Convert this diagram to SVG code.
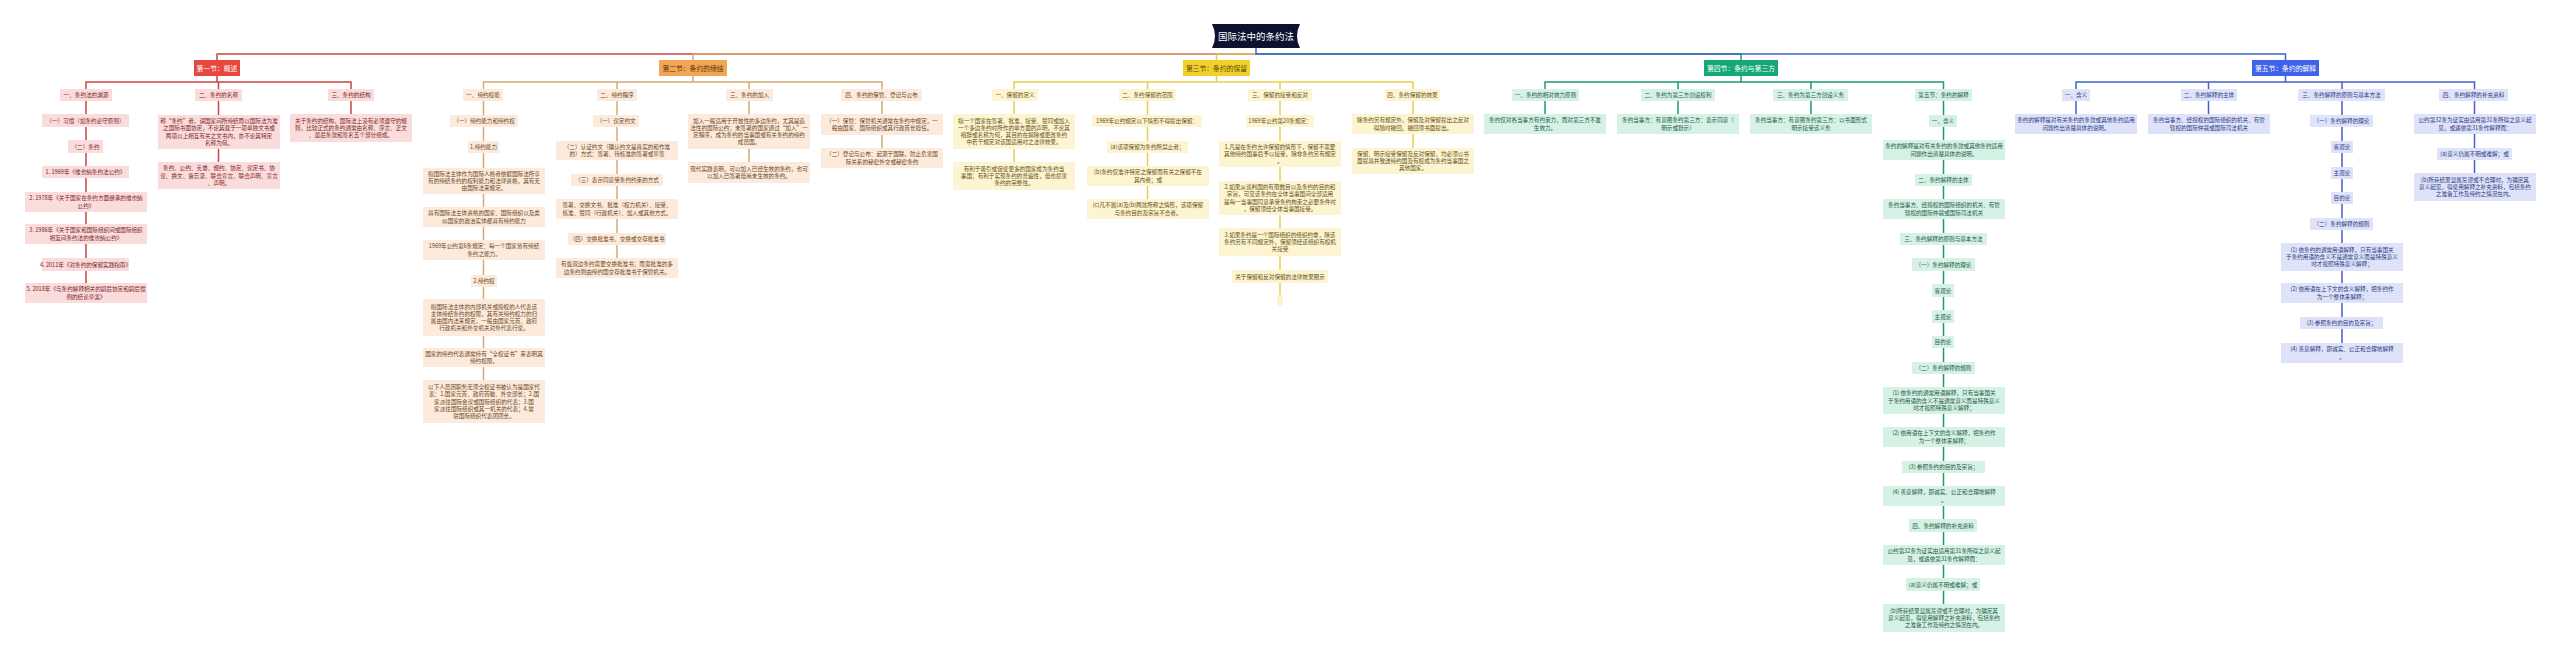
<svg xmlns="http://www.w3.org/2000/svg" width="2560" height="657" viewBox="0 0 2560 657">
<style>
text{font-family:"Noto Sans CJK SC","Noto Sans",sans-serif;font-size:5.6px;text-anchor:middle}
.c path{fill:none;stroke-width:1.5}
.l1{stroke:#c94642}.l2{stroke:#d8aa72}.l3{stroke:#e7cf4a}.l4{stroke:#1c9c6d}.l5{stroke:#4462c9}
.s1 rect{fill:#fadcdc}.s1 text{fill:#7a2424}
.s2 rect{fill:#fcebdc}.s2 text{fill:#6b4420}
.s3 rect{fill:#fdf4d2}.s3 text{fill:#5f5010}
.s4 rect{fill:#d6f1e5}.s4 text{fill:#1d5a44}
.s5 rect{fill:#dfe3fa}.s5 text{fill:#2a3a80}
.h text{font-size:6.8px}
.h1 rect{fill:#e8473d}.h1 text{fill:#fff}
.h2 rect{fill:#f2a553}.h2 text{fill:#5a3210}
.h3 rect{fill:#f1d02c}.h3 text{fill:#5a4a00}
.h4 rect{fill:#14a877}.h4 text{fill:#fff}
.h5 rect{fill:#3f62e8}.h5 text{fill:#fff}
</style>
<rect width="2560" height="657" fill="#fff"/>
<g id="connectors" class="c">
<path class="l1" d="M1256 54 H217 V60"/>
<path class="l3" d="M1256 54 H1216.5 V60"/>
<path class="l2" d="M1256 54 H693 V60"/>
<path class="l4" d="M1256 54 H1741 V60"/>
<path class="l5" d="M1256 48 V54 H2285.5 V60"/>
<path class="l1" d="M217 76 V82 M86 89 V82 H351 V89 M218.5 82 V89 M86 101 V283 M218.5 101 V162 M351 101 V114"/>
<path class="l2" d="M693 76 V82 M483.5 89 V82 H882 V89 M617 82 V89 M749 82 V89 M483.5 101 V380 M617 101 V258 M749 101 V162 M882 101 V148"/>
<path class="l3" d="M1216.5 76 V82 M1014 89 V82 H1413 V89 M1147.5 82 V89 M1280 82 V89 M1014 101 V162 M1147.5 101 V199 M1280 101 V295 M1413 101 V148"/>
<path class="l4" d="M1741 76 V82 M1545 89 V82 H1943.5 V89 M1678 82 V89 M1811 82 V89 M1545 101 V114 M1678 101 V114 M1811 101 V114 M1943.5 101 V604"/>
<path class="l5" d="M2285.5 76 V82 M2076 89 V82 H2474.5 V89 M2208.5 82 V89 M2342 82 V89 M2076 101 V114 M2208.5 101 V114 M2342 101 V343 M2474.5 101 V173"/>
</g>
<g id="root"><path d="M1212 24 H1300 Q1294 36 1300 48 H1212 Q1218 36 1212 24 Z" fill="#0c1230"/><text x="1256" y="39.5" style="font-size:9.5px;fill:#fff">国际法中的条约法</text></g>

<g id="sec1" class="h h1"><rect x="194" y="60" width="46" height="16"/><text x="217" y="70.5">第一节：概述</text></g>
<g id="s1-1" class="s1"><rect x="60" y="89" width="52" height="12"/><text x="86" y="97">一、条约法的渊源</text></g>
<g id="s1-2" class="s1"><rect x="195" y="89" width="47" height="12"/><text x="218.5" y="97">二、条约的名称</text></g>
<g id="s1-3" class="s1"><rect x="328" y="89" width="46" height="12"/><text x="351" y="97">三、条约的结构</text></g>
<g id="s1-1a" class="s1"><rect x="42" y="114" width="87" height="13"/><text x="85.5" y="122.5">（一）习惯（如条约必守原则）</text></g>
<g id="s1-1b" class="s1"><rect x="68" y="140" width="35" height="13"/><text x="85.5" y="148.5">（二）条约</text></g>
<g id="s1-1c" class="s1"><rect x="42" y="166" width="87" height="12"/><text x="85.5" y="174">1. 1969年《维也纳条约法公约》</text></g>
<g id="s1-1d" class="s1"><rect x="25" y="192" width="122" height="20"/><text x="86" y="200.4">2. 1978年《关于国家在条约方面继承的维也纳</text><text x="86" y="207.6">公约》</text></g>
<g id="s1-1e" class="s1"><rect x="25" y="224" width="122" height="20"/><text x="86" y="232.4">3. 1986年《关于国家和国际组织间或国际组织</text><text x="86" y="239.6">相互间条约法的维也纳公约》</text></g>
<g id="s1-1f" class="s1"><rect x="42" y="258" width="87" height="13"/><text x="85.5" y="266.5">4. 2011年《对条约的保留实践指南》</text></g>
<g id="s1-1g" class="s1"><rect x="25" y="283" width="122" height="20"/><text x="86" y="291.4">5. 2018年《与条约解释相关的嗣后协定和嗣后惯</text><text x="86" y="298.6">例的结论草案》</text></g>
<g id="s1-2a" class="s1"><rect x="158" y="115" width="122" height="34"/><text x="219" y="123.2">称“条约”者，谓国家间所缔结而以国际法为准</text><text x="219" y="130.4">之国际书面协定，不论其载于一项单独文书或</text><text x="219" y="137.6">两项以上相互有关之文书内，亦不论其特定</text><text x="219" y="144.8">名称为何。</text></g>
<g id="s1-2b" class="s1"><rect x="158" y="162" width="122" height="27"/><text x="219" y="170.3">条约、公约、宪章、规约、协定、议定书、协</text><text x="219" y="177.5">议、换文、备忘录、联合宣言、联合声明、宣言</text><text x="219" y="184.7">、声明。</text></g>
<g id="s1-3a" class="s1"><rect x="290" y="114" width="122" height="28"/><text x="351" y="122.8">关于条约的结构，国际法上没有必须遵守的规</text><text x="351" y="130">则，比较正式的条约通常由名称、序言、正文</text><text x="351" y="137.2">、最后条款和签名五个部分组成。</text></g>

<g id="sec2" class="h h2"><rect x="659" y="60" width="68" height="16"/><text x="693" y="70.5">第二节：条约的缔结</text></g>
<g id="s2-1" class="s2"><rect x="463" y="89" width="40" height="12"/><text x="483" y="97">一、缔约权能</text></g>
<g id="s2-2" class="s2"><rect x="597" y="89" width="40" height="12"/><text x="617" y="97">二、缔约程序</text></g>
<g id="s2-3" class="s2"><rect x="726" y="89" width="47" height="12"/><text x="749.5" y="97">三、条约的加入</text></g>
<g id="s2-4" class="s2"><rect x="841" y="89" width="81" height="12"/><text x="881.5" y="97">四、条约的保管、登记与公布</text></g>
<g id="s2-1a" class="s2"><rect x="450" y="115" width="68" height="12"/><text x="484" y="123">（一）缔约能力和缔约权</text></g>
<g id="s2-1b" class="s2"><rect x="468" y="141" width="31" height="12"/><text x="483.5" y="149">1.缔约能力</text></g>
<g id="s2-1c" class="s2"><rect x="423" y="168" width="122" height="26"/><text x="484" y="175.8">指国际法主体作为国际人格者依据国际法所享</text><text x="484" y="183">有的缔结条约的权利能力和法律资格，其有无</text><text x="484" y="190.2">由国际法来规定。</text></g>
<g id="s2-1d" class="s2"><rect x="423" y="207" width="122" height="20"/><text x="484" y="215.4">具有国际法主体资格的国家、国际组织以及类</text><text x="484" y="222.6">似国家的政治实体都具有缔约能力</text></g>
<g id="s2-1e" class="s2"><rect x="423" y="240" width="122" height="20"/><text x="484" y="248.4">1969年公约第6条规定：每一个国家皆有缔结</text><text x="484" y="255.6">条约之能力。</text></g>
<g id="s2-1f" class="s2"><rect x="471" y="275" width="26" height="12"/><text x="484" y="283">2.缔约权</text></g>
<g id="s2-1g" class="s2"><rect x="423" y="299" width="122" height="37"/><text x="484" y="308.7">指国际法主体的内部机关或授权的人代表该</text><text x="484" y="315.9">主体缔结条约的权限，其有关缔约权力的归</text><text x="484" y="323.1">属由国内法来规定，一般由国家元首、政府</text><text x="484" y="330.3">行政机关和外交机关对外代表行使。</text></g>
<g id="s2-1h" class="s2"><rect x="423" y="348" width="122" height="19"/><text x="484" y="355.9">国家的缔约代表通常持有“全权证书”来表明其</text><text x="484" y="363.1">缔约权限。</text></g>
<g id="s2-1i" class="s2"><rect x="423" y="380" width="122" height="43"/><text x="484" y="389.1">以下人员因职务无须全权证书被认为是国家代</text><text x="484" y="396.3">表：1.国家元首、政府首脑、外交部长；2.国</text><text x="484" y="403.5">家派往国际会议或国际组织的代表；3.国</text><text x="484" y="410.7">家派往国际组织或其一机关的代表；4.常</text><text x="484" y="417.9">驻国际组织代表团团长。</text></g>
<g id="s2-2a" class="s2"><rect x="593" y="115" width="46" height="12"/><text x="616" y="123">（一）议定约文</text></g>
<g id="s2-2b" class="s2"><rect x="556" y="141" width="122" height="19"/><text x="617" y="148.9">（二）认证约文（确认约文是真实的和作准</text><text x="617" y="156.1">的）方式：签署、待核准的签署或草签</text></g>
<g id="s2-2c" class="s2"><rect x="571" y="174" width="92" height="12"/><text x="617" y="182">（三）表示同意受条约约束的方式</text></g>
<g id="s2-2d" class="s2"><rect x="556" y="199" width="122" height="20"/><text x="617" y="207.4">签署、交换文书、批准（权力机关）、接受、</text><text x="617" y="214.6">核准、赞同（行政机关）、加入或其他方式。</text></g>
<g id="s2-2e" class="s2"><rect x="568" y="233" width="98" height="12"/><text x="617" y="241">（四）交换批准书、交换或交存批准书</text></g>
<g id="s2-2f" class="s2"><rect x="556" y="258" width="122" height="20"/><text x="617" y="266.4">有些双边条约需要交换批准书；而需批准的多</text><text x="617" y="273.6">边条约则由缔约国交存批准书于保管机关。</text></g>
<g id="s2-3a" class="s2"><rect x="688" y="114" width="122" height="35"/><text x="749" y="122.7">加入一般适用于开放性的多边条约，尤其是造</text><text x="749" y="129.9">法性的国际公约；未签署的国家通过“加入”一</text><text x="749" y="137.1">定程序，成为条约的当事国或有关条约的缔约</text><text x="749" y="144.3">成员国。</text></g>
<g id="s2-3b" class="s2"><rect x="688" y="162" width="122" height="21"/><text x="749" y="170.9">现代实践表明，可以加入已经生效的条约，也可</text><text x="749" y="178.1">以加入已签署但尚未生效的条约。</text></g>
<g id="s2-4a" class="s2"><rect x="821" y="114" width="122" height="21"/><text x="882" y="122.9">（一）保管：保管机关通常在条约中规定，一</text><text x="882" y="130.1">般由国家、国际组织或其行政首长担任。</text></g>
<g id="s2-4b" class="s2"><rect x="821" y="148" width="122" height="20"/><text x="882" y="156.4">（二）登记与公布：起源于国联，防止危害国</text><text x="882" y="163.6">际关系的秘密外交或秘密条约</text></g>

<g id="sec3" class="h h3"><rect x="1183" y="60" width="67" height="16"/><text x="1216.5" y="70.5">第三节：条约的保留</text></g>
<g id="s3-1" class="s3"><rect x="992" y="89" width="46" height="12"/><text x="1015" y="97">一、保留的定义</text></g>
<g id="s3-2" class="s3"><rect x="1119" y="89" width="57" height="12"/><text x="1147.5" y="97">二、条约保留的范围</text></g>
<g id="s3-3" class="s3"><rect x="1248" y="89" width="64" height="12"/><text x="1280" y="97">三、保留的接受和反对</text></g>
<g id="s3-4" class="s3"><rect x="1385" y="89" width="55" height="12"/><text x="1412.5" y="97">四、条约保留的效果</text></g>
<g id="s3-1a" class="s3"><rect x="953" y="114" width="122" height="35"/><text x="1014" y="122.7">指一个国家在签署、批准、接受、赞同或加入</text><text x="1014" y="129.9">一个多边条约时所作的单方面的声明，不论其</text><text x="1014" y="137.1">措辞或名称为何，其目的在摒除或更改条约</text><text x="1014" y="144.3">中若干规定对该国适用时之法律效果。</text></g>
<g id="s3-1b" class="s3"><rect x="953" y="162" width="122" height="28"/><text x="1014" y="170.8">有利于吸引或促使更多的国家成为条约当</text><text x="1014" y="178">事国；有利于实现条约的普遍性，但也损害</text><text x="1014" y="185.2">条约的完整性。</text></g>
<g id="s3-2a" class="s3"><rect x="1092" y="115" width="110" height="12"/><text x="1147" y="123">1969年公约规定以下情形不得提出保留：</text></g>
<g id="s3-2b" class="s3"><rect x="1107" y="141" width="81" height="12"/><text x="1147.5" y="149">(a)该项保留为条约所禁止者；</text></g>
<g id="s3-2c" class="s3"><rect x="1087" y="166" width="122" height="20"/><text x="1148" y="174.4">(b)条约仅准许特定之保留而有关之保留不在</text><text x="1148" y="181.6">其内者；或</text></g>
<g id="s3-2d" class="s3"><rect x="1087" y="199" width="122" height="20"/><text x="1148" y="207.4">(c)凡不属(a)及(b)两款所称之情形，该项保留</text><text x="1148" y="214.6">与条约目的及宗旨不合者。</text></g>
<g id="s3-3a" class="s3"><rect x="1246" y="115" width="68" height="12"/><text x="1280" y="123">1969年公约第20条规定：</text></g>
<g id="s3-3b" class="s3"><rect x="1219" y="141" width="122" height="26"/><text x="1280" y="148.8">1.凡是在条约允许保留的情形下，保留不需要</text><text x="1280" y="156">其他缔约国事后予以接受，除非条约另有规定</text><text x="1280" y="163.2">。</text></g>
<g id="s3-3c" class="s3"><rect x="1219" y="181" width="122" height="34"/><text x="1280" y="189.2">2.如果从谈判国的有限数目以及条约的目的和</text><text x="1280" y="196.4">宗旨，可见该条约在全体当事国间全部适用</text><text x="1280" y="203.6">是每一当事国同意承受条约拘束之必要条件时</text><text x="1280" y="210.8">，保留须经全体当事国接受。</text></g>
<g id="s3-3d" class="s3"><rect x="1219" y="228" width="122" height="28"/><text x="1280" y="236.8">3.如果条约是一个国际组织的组织约章，除该</text><text x="1280" y="244">条约另有不同规定外，保留须经该组织有权机</text><text x="1280" y="251.2">关接受</text></g>
<g id="s3-3e" class="s3"><rect x="1232" y="270" width="96" height="13"/><text x="1280" y="278.5">关于保留和反对保留的法律效果图示</text></g>
<g id="s3-3f" class="s3"><rect x="1277" y="295" width="6" height="12"/></g>
<g id="s3-4a" class="s3"><rect x="1352" y="114" width="122" height="20"/><text x="1413" y="122.4">除条约另有规定外，保留及对保留提出之反对</text><text x="1413" y="129.6">得随时撤回，撤回须书面提出。</text></g>
<g id="s3-4b" class="s3"><rect x="1352" y="148" width="122" height="26"/><text x="1413" y="155.8">保留、明示接受保留及反对保留，均必须以书</text><text x="1413" y="163">面提具并致送缔约国及有权成为条约当事国之</text><text x="1413" y="170.2">其他国家。</text></g>

<g id="sec4" class="h h4"><rect x="1704" y="60" width="74" height="16"/><text x="1741" y="70.5">第四节：条约与第三方</text></g>
<g id="s4-1" class="s4"><rect x="1512" y="89" width="67" height="12"/><text x="1545.5" y="97">一、条约的相对效力原则</text></g>
<g id="s4-2" class="s4"><rect x="1641" y="89" width="74" height="12"/><text x="1678" y="97">二、条约为第三方创设权利</text></g>
<g id="s4-3" class="s4"><rect x="1773" y="89" width="75" height="12"/><text x="1810.5" y="97">三、条约为第三方创设义务</text></g>
<g id="s4-4" class="s4"><rect x="1915" y="89" width="57" height="12"/><text x="1943.5" y="97">第五节：条约的解释</text></g>
<g id="s4-1a" class="s4"><rect x="1484" y="114" width="122" height="20"/><text x="1545" y="122.4">条约仅对各当事方有约束力，而对第三方不发</text><text x="1545" y="129.6">生效力。</text></g>
<g id="s4-2a" class="s4"><rect x="1617" y="114" width="122" height="20"/><text x="1678" y="122.4">条约当事方：有意图条约第三方：表示同意（</text><text x="1678" y="129.6">明示或默示）</text></g>
<g id="s4-3a" class="s4"><rect x="1750" y="114" width="122" height="20"/><text x="1811" y="122.4">条约当事方：有意图条约第三方：以书面形式</text><text x="1811" y="129.6">明示接受该义务</text></g>
<g id="s4-4a" class="s4"><rect x="1929" y="115" width="28" height="12"/><text x="1943" y="123">一、含义</text></g>
<g id="s4-4b" class="s4"><rect x="1883" y="140" width="122" height="20"/><text x="1944" y="148.4">条约的解释是对有关条约的条款或其他条约适用</text><text x="1944" y="155.6">问题作出清楚具体的说明。</text></g>
<g id="s4-4c" class="s4"><rect x="1915" y="174" width="57" height="12"/><text x="1943.5" y="182">二、条约解释的主体</text></g>
<g id="s4-4d" class="s4"><rect x="1883" y="199" width="122" height="20"/><text x="1944" y="207.4">条约当事方、经授权的国际组织的机关、有管</text><text x="1944" y="214.6">辖权的国际仲裁或国际司法机关</text></g>
<g id="s4-4e" class="s4"><rect x="1900" y="233" width="87" height="12"/><text x="1943.5" y="241">三、条约解释的原则与基本方法</text></g>
<g id="s4-4f" class="s4"><rect x="1912" y="258" width="63" height="13"/><text x="1943.5" y="266.5">（一）条约解释的理论</text></g>
<g id="s4-4g" class="s4"><rect x="1932" y="284" width="22" height="13"/><text x="1943" y="292.5">客观论</text></g>
<g id="s4-4h" class="s4"><rect x="1932" y="310" width="22" height="13"/><text x="1943" y="318.5">主观论</text></g>
<g id="s4-4i" class="s4"><rect x="1932" y="336" width="22" height="12"/><text x="1943" y="344">目的论</text></g>
<g id="s4-4j" class="s4"><rect x="1912" y="362" width="63" height="12"/><text x="1943.5" y="370">（二）条约解释的规则</text></g>
<g id="s4-4k" class="s4"><rect x="1883" y="387" width="122" height="27"/><text x="1944" y="395.3">(1) 依条约的通常用语解释，只有当事国关</text><text x="1944" y="402.5">于条约用语的含义不是通常意义而是特殊意义</text><text x="1944" y="409.7">时才按照特殊意义解释；</text></g>
<g id="s4-4l" class="s4"><rect x="1883" y="427" width="122" height="20"/><text x="1944" y="435.4">(2) 依用语在上下文的含义解释，把条约作</text><text x="1944" y="442.6">为一个整体来解释；</text></g>
<g id="s4-4m" class="s4"><rect x="1902" y="461" width="83" height="12"/><text x="1943.5" y="469">(3) 参照条约的目的及宗旨；</text></g>
<g id="s4-4n" class="s4"><rect x="1883" y="486" width="122" height="20"/><text x="1944" y="494.4">(4) 善意解释，即诚实、公正和合理地解释</text><text x="1944" y="501.6">。</text></g>
<g id="s4-4o" class="s4"><rect x="1909" y="519" width="68" height="13"/><text x="1943" y="527.5">四、条约解释的补充资料</text></g>
<g id="s4-4p" class="s4"><rect x="1883" y="545" width="122" height="20"/><text x="1944" y="553.4">公约第32条为证实由适用第31条所得之意义起</text><text x="1944" y="560.6">见，或遇依第31条作解释而：</text></g>
<g id="s4-4q" class="s4"><rect x="1906" y="578" width="74" height="13"/><text x="1943" y="586.5">(a)意义仍属不明或难解；或</text></g>
<g id="s4-4r" class="s4"><rect x="1883" y="604" width="122" height="28"/><text x="1944" y="612.8">(b)所获结果显属荒谬或不合理时，为确定其</text><text x="1944" y="620">意义起见，得使用解释之补充资料，包括条约</text><text x="1944" y="627.2">之准备工作及缔约之情况在内。</text></g>

<g id="sec5" class="h h5"><rect x="2252" y="60" width="67" height="16"/><text x="2285.5" y="70.5">第五节：条约的解释</text></g>
<g id="s5-1" class="s5"><rect x="2062" y="89" width="28" height="12"/><text x="2076" y="97">一、含义</text></g>
<g id="s5-2" class="s5"><rect x="2181" y="89" width="56" height="12"/><text x="2209" y="97">二、条约解释的主体</text></g>
<g id="s5-3" class="s5"><rect x="2298" y="89" width="87" height="12"/><text x="2341.5" y="97">三、条约解释的原则与基本方法</text></g>
<g id="s5-4" class="s5"><rect x="2439" y="89" width="69" height="12"/><text x="2473.5" y="97">四、条约解释的补充资料</text></g>
<g id="s5-1a" class="s5"><rect x="2015" y="114" width="122" height="20"/><text x="2076" y="122.4">条约的解释是对有关条约的条款或其他条约适用</text><text x="2076" y="129.6">问题作出清楚具体的说明。</text></g>
<g id="s5-2a" class="s5"><rect x="2148" y="114" width="122" height="20"/><text x="2209" y="122.4">条约当事方、经授权的国际组织的机关、有管</text><text x="2209" y="129.6">辖权的国际仲裁或国际司法机关</text></g>
<g id="s5-3a" class="s5"><rect x="2310" y="115" width="63" height="12"/><text x="2341.5" y="123">（一）条约解释的理论</text></g>
<g id="s5-3b" class="s5"><rect x="2331" y="141" width="22" height="12"/><text x="2342" y="149">客观论</text></g>
<g id="s5-3c" class="s5"><rect x="2331" y="167" width="22" height="12"/><text x="2342" y="175">主观论</text></g>
<g id="s5-3d" class="s5"><rect x="2331" y="192" width="22" height="12"/><text x="2342" y="200">目的论</text></g>
<g id="s5-3e" class="s5"><rect x="2310" y="218" width="63" height="12"/><text x="2341.5" y="226">（二）条约解释的规则</text></g>
<g id="s5-3f" class="s5"><rect x="2281" y="243" width="122" height="28"/><text x="2342" y="251.8">(1) 依条约的通常用语解释，只有当事国关</text><text x="2342" y="259">于条约用语的含义不是通常意义而是特殊意义</text><text x="2342" y="266.2">时才按照特殊意义解释；</text></g>
<g id="s5-3g" class="s5"><rect x="2281" y="283" width="122" height="20"/><text x="2342" y="291.4">(2) 依用语在上下文的含义解释，把条约作</text><text x="2342" y="298.6">为一个整体来解释；</text></g>
<g id="s5-3h" class="s5"><rect x="2300" y="317" width="83" height="12"/><text x="2341.5" y="325">(3) 参照条约的目的及宗旨；</text></g>
<g id="s5-3i" class="s5"><rect x="2281" y="343" width="122" height="20"/><text x="2342" y="351.4">(4) 善意解释，即诚实、公正和合理地解释</text><text x="2342" y="358.6">。</text></g>
<g id="s5-4a" class="s5"><rect x="2414" y="114" width="122" height="20"/><text x="2475" y="122.4">公约第32条为证实由适用第31条所得之意义起</text><text x="2475" y="129.6">见，或遇依第31条作解释而：</text></g>
<g id="s5-4b" class="s5"><rect x="2437" y="148" width="75" height="12"/><text x="2474.5" y="156">(a)意义仍属不明或难解；或</text></g>
<g id="s5-4c" class="s5"><rect x="2414" y="173" width="122" height="28"/><text x="2475" y="181.8">(b)所获结果显属荒谬或不合理时，为确定其</text><text x="2475" y="189">意义起见，得使用解释之补充资料，包括条约</text><text x="2475" y="196.2">之准备工作及缔约之情况在内。</text></g>
</svg>
